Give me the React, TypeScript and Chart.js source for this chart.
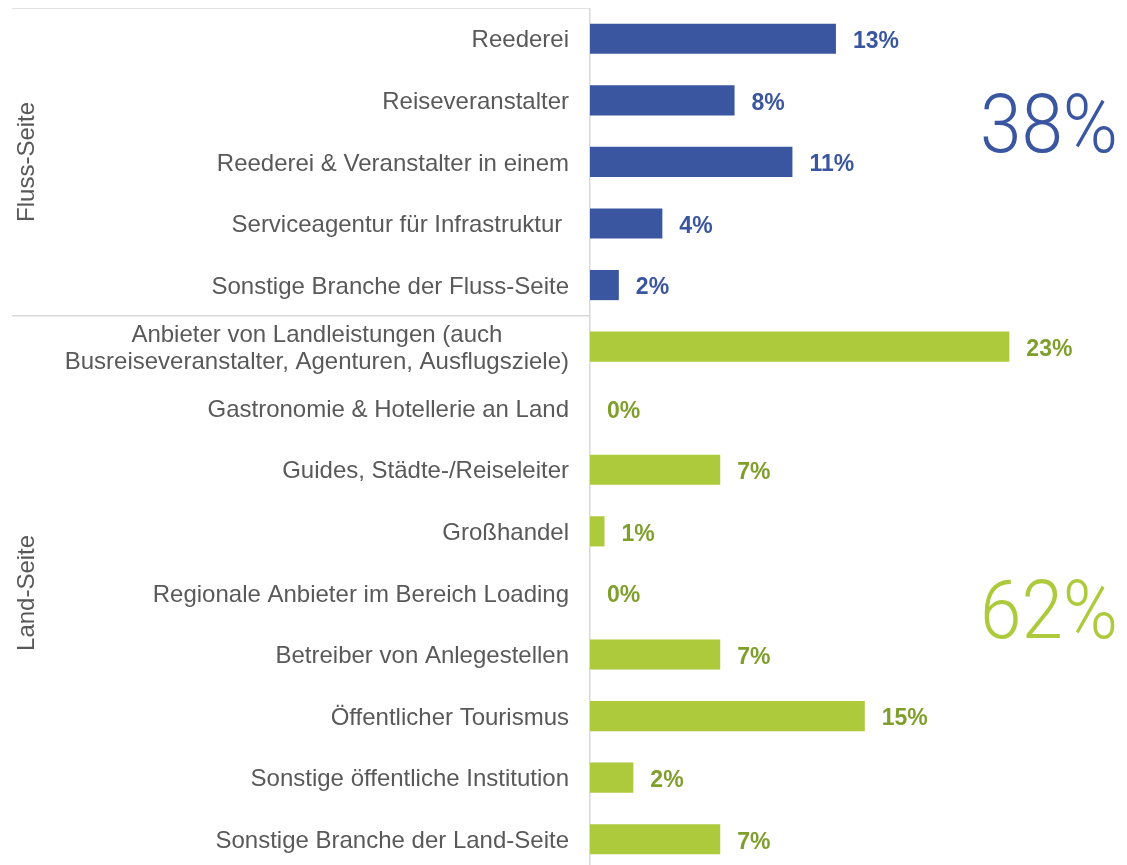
import React, { useEffect, useRef } from 'react';
import { Chart, registerables } from 'chart.js';

Chart.register(...registerables);

// ---- Data ----
const categories: (string | string[])[] = [
  'Reederei',
  'Reiseveranstalter',
  'Reederei & Veranstalter in einem',
  'Serviceagentur für Infrastruktur ',
  'Sonstige Branche der Fluss-Seite',
  ['Anbieter von Landleistungen (auch', 'Busreiseveranstalter, Agenturen, Ausflugsziele)'],
  'Gastronomie & Hotellerie an Land',
  'Guides, Städte-/Reiseleiter',
  'Großhandel',
  'Regionale Anbieter im Bereich Loading',
  'Betreiber von Anlegestellen',
  'Öffentlicher Tourismus',
  'Sonstige öffentliche Institution',
  'Sonstige Branche der Land-Seite',
];
const values = [13.39, 7.87, 11.02, 3.94, 1.57, 22.83, 0, 7.09, 0.79, 0, 7.09, 14.96, 2.36, 7.09];
const valueLabels = ['13%', '8%', '11%', '4%', '2%', '23%', '0%', '7%', '1%', '0%', '7%', '15%', '2%', '7%'];
const groupNames = ['Fluss-Seite', 'Land-Seite'];
const groupSizes = [5, 9];
const groupTotals = ['38%', '62%'];
const groupTotalAt = [1.84, 9.73];

// ---- Style ----
const barColors = ['#3b56a0', '#acca3b'];
const labelColors = ['#3b56a0', '#7f9f2c'];
const totalColors = ['#3b56a0', '#acca3b'];
const textGrey = '#595959';
const lineGrey = '#d9d9d9';
const FONT = '"Liberation Sans", Arial, sans-serif';

const groupOf = (i: number) => {
  let acc = 0;
  for (let g = 0; g < groupSizes.length; g++) {
    acc += groupSizes[g];
    if (i < acc) return g;
  }
  return groupSizes.length - 1;
};

const overlay = {
  id: 'overlay',
  afterDraw(chart: any) {
    const ctx = chart.ctx as CanvasRenderingContext2D;
    const { left, right } = chart.chartArea;
    const ys = chart.scales.y;
    const xs = chart.scales.x;
    ctx.save();

    // category labels
    ctx.font = `24px ${FONT}`;
    ctx.fillStyle = textGrey;
    ctx.textBaseline = 'middle';
    const labelRight = left - 21;
    categories.forEach((c, i) => {
      const lines = Array.isArray(c) ? c : [c];
      const py = ys.getPixelForValue(i) + 2;
      const lh = 27;
      if (lines.length === 1) {
        ctx.textAlign = 'right';
        ctx.fillText(lines[0], labelRight, py);
      } else {
        const maxW = Math.max(...lines.map((l) => ctx.measureText(l).width));
        ctx.textAlign = 'center';
        lines.forEach((l, k) => {
          ctx.fillText(l, labelRight - maxW / 2, py + (k - (lines.length - 1) / 2) * lh);
        });
      }
    });

    // value labels
    ctx.font = `bold 23px ${FONT}`;
    ctx.textAlign = 'left';
    values.forEach((v, i) => {
      ctx.fillStyle = labelColors[groupOf(i)];
      ctx.fillText(valueLabels[i], xs.getPixelForValue(v) + 17, ys.getPixelForValue(i) + 3);
    });

    // group separator lines
    ctx.strokeStyle = lineGrey;
    ctx.lineWidth = 1.5;
    let start = 0;
    const bounds: number[] = [-0.5];
    groupSizes.forEach((s) => {
      start += s;
      bounds.push(start - 0.5);
    });
    bounds.slice(0, -1).forEach((b) => {
      const py = ys.getPixelForValue(b);
      ctx.beginPath();
      ctx.moveTo(4, py);
      ctx.lineTo(left, py);
      ctx.stroke();
    });

    // group names (rotated)
    ctx.font = `24px ${FONT}`;
    ctx.fillStyle = textGrey;
    ctx.textAlign = 'center';
    ctx.textBaseline = 'middle';
    groupNames.forEach((g, k) => {
      const mid = (bounds[k] + bounds[k + 1]) / 2;
      const py = ys.getPixelForValue(mid);
      ctx.save();
      ctx.translate(19, py);
      ctx.rotate(-Math.PI / 2);
      ctx.fillText(g, 0, 0);
      ctx.restore();
    });

    // big totals
    ctx.font = `300 82px Roboto, ${FONT}`;
    ctx.textAlign = 'right';
    ctx.textBaseline = 'alphabetic';
    groupTotals.forEach((t, k) => {
      ctx.save();
      ctx.translate(right - 1, ys.getPixelForValue(groupTotalAt[k]));
      ctx.scale(0.91, 1);
      ctx.fillStyle = totalColors[k];
      ctx.fillText(t, 0, 0);
      ctx.restore();
    });

    ctx.restore();
  },
};

export default function App() {
  const ref = useRef<HTMLCanvasElement | null>(null);
  useEffect(() => {
    if (!ref.current) return;
    Chart.defaults.font.family = FONT;
    const chart = new Chart(ref.current, {
      type: 'bar',
      data: {
        labels: categories as any,
        datasets: [
          {
            data: values,
            backgroundColor: values.map((_, i) => barColors[groupOf(i)]),
            borderWidth: 0,
            categoryPercentage: 1,
            barPercentage: 0.49,
          },
        ],
      },
      options: {
        indexAxis: 'y',
        responsive: false,
        animation: false,
        layout: { padding: { left: 0, right: 0, top: 0, bottom: 0 } },
        plugins: {
          legend: { display: false },
          tooltip: { enabled: false },
        },
        scales: {
          x: {
            display: false,
            min: 0,
            max: 28.8,
          },
          y: {
            grid: { display: false, drawTicks: false },
            border: { display: true, color: lineGrey, width: 1.5 },
            ticks: { display: false },
            afterFit: (scale: any) => {
              scale.width = 582;
            },
          },
        },
      },
      plugins: [overlay],
    });
    return () => chart.destroy();
  }, []);
  return (
    <div style={{ width: 1111, height: 857, overflow: 'hidden' }}>
      <canvas ref={ref} width={1111} height={862} style={{ display: 'block' }} />
    </div>
  );
}
